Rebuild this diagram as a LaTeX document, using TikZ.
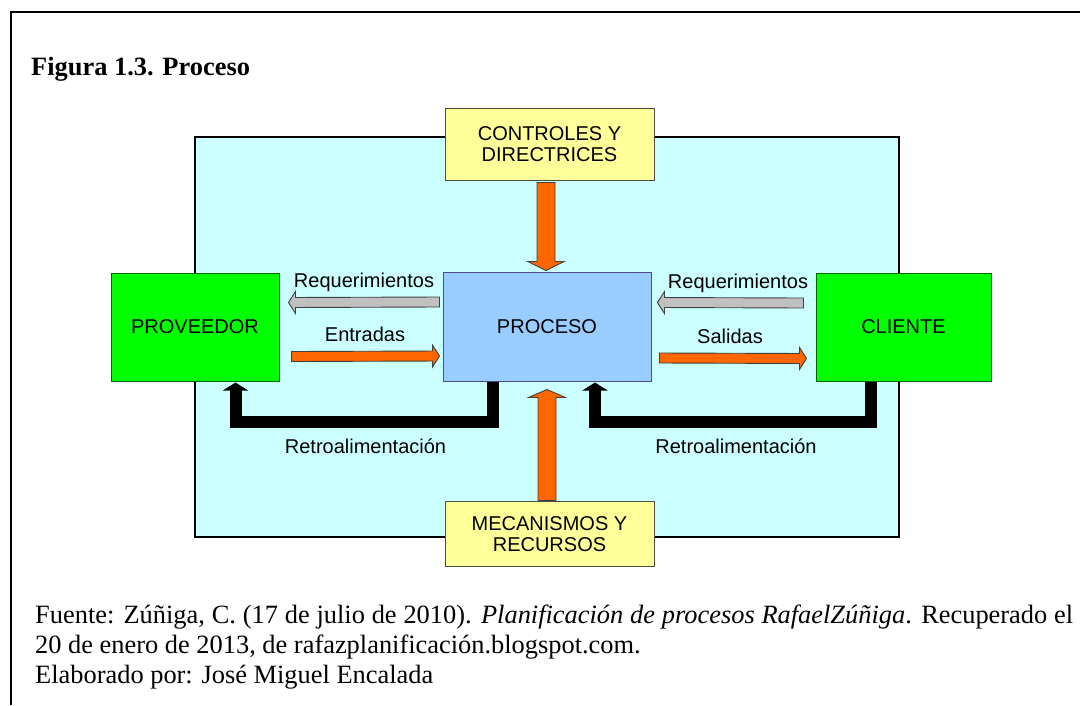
\documentclass[tikz,border=0pt]{standalone}
\usepackage{fontspec}
\setmainfont{Liberation Serif}
\newfontfamily\arialfont{Liberation Sans}
\usetikzlibrary{calc,arrows.meta}

\definecolor{panelcyan}{HTML}{CCFFFF}
\definecolor{boxyellow}{HTML}{FFFF99}
\definecolor{boxgreen}{HTML}{00FF00}
\definecolor{boxblue}{HTML}{99CCFF}
\definecolor{arroworange}{HTML}{FF6600}
\definecolor{arrowgray}{HTML}{C0C0C0}

\tikzset{
  box/.style={rectangle, draw=#1, line width=1pt, inner sep=0pt, align=center,
    font=\arialfont\fontsize{20}{21.5}\selectfont},
  label/.style={inner sep=0pt, anchor=base, font=\arialfont\fontsize{20}{22}\selectfont},
  blockline/.style={draw=black!75, line width=0.9pt, line join=miter},
  feedback/.style={line width=12pt, line join=miter, -{Triangle[length=8pt,width=25pt]}},
  footer/.style={inner sep=0pt, anchor=base west, font=\fontsize{26.4}{30}\selectfont},
}

% block arrow: fill, start, tip, half body width, half head width, head length
\newcommand{\blockarr}[6]{%
  \path ($(#3)!#6!(#2)$) coordinate (babase);
  \draw[blockline, fill=#1]
    ($(#2)!#4!90:(#3)$) -- ($(babase)!#4!90:(#3)$) -- ($(babase)!#5!90:(#3)$)
    -- (#3) -- ($(babase)!#5!-90:(#3)$) -- ($(babase)!#4!-90:(#3)$)
    -- ($(#2)!#4!-90:(#3)$) -- cycle;
}

\begin{document}
\begin{tikzpicture}[x=1pt,y=-1pt]
\useasboundingbox (0,0) rectangle (1080,705);

% page frame
\draw[line width=2.2pt] (1080,12) -- (11,12) -- (11,705);

\node[inner sep=0pt, anchor=base west, font=\bfseries\fontsize{26.4}{30}\selectfont]
  (title) at (31,75) {Figura 1.3. Proceso};

% process area
\draw[line width=2.5pt, fill=panelcyan] (195,137) rectangle (899,537);

% blocks
\node[box=black!70, fill=boxyellow, minimum width=209pt, minimum height=72pt]
  (ctrl) at (549.5,144) {CONTROLES Y\\DIRECTRICES};
\node[box=black!70, fill=boxyellow, minimum width=209pt, minimum height=65pt]
  (mech) at (549.5,534) {MECANISMOS Y\\RECURSOS};
\node[box=green!40!black, fill=boxgreen, minimum width=168pt, minimum height=108pt]
  (prov) at (195,327) {PROVEEDOR};
\node[box=blue!30!black!70, fill=boxblue, minimum width=208pt, minimum height=109pt]
  (proc) at (547,326.5) {PROCESO};
\node[box=green!40!black, fill=boxgreen, minimum width=175pt, minimum height=108pt]
  (cli) at (903.5,327) {CLIENTE};

% arrow end points
\coordinate (reqLs) at ($(proc.west)+(-3,-24.5)$);
\coordinate (reqLt) at ($(prov.east)+(9,-24.5)$);
\coordinate (entS) at ($(prov.east)+(12,29.5)$);
\coordinate (entT) at ($(proc.west)+(-3,29.5)$);
\coordinate (reqRs) at ($(cli.west)+(-12,-24)$);
\coordinate (reqRt) at ($(proc.east)+(6,-24)$);
\coordinate (salS) at ($(proc.east)+(8,31.5)$);
\coordinate (salT) at ($(cli.west)+(-9,31.5)$);
\coordinate (ctlS) at ($(ctrl.south)+(-3.5,2)$);
\coordinate (ctlT) at ($(proc.north)+(-1,-1)$);
\coordinate (mecS) at ($(mech.north)+(-2.5,-0.5)$);
\coordinate (mecT) at ($(proc.south)+(0,8)$);

\blockarr{arrowgray}{reqLs}{reqLt}{5pt}{11pt}{7pt}
\blockarr{arroworange}{entS}{entT}{5pt}{11pt}{7pt}
\blockarr{arrowgray}{reqRs}{reqRt}{5pt}{11pt}{7pt}
\blockarr{arroworange}{salS}{salT}{5pt}{11pt}{7pt}
\blockarr{arroworange}{ctlS}{ctlT}{9pt}{18pt}{9pt}
\blockarr{arroworange}{mecS}{mecT}{9pt}{18.5pt}{8pt}

% feedback loops
\draw[feedback] ($(proc.south west)+(50.5,0)$) -- ++(0,40) -| ($(prov.south west)+(125,1)$);
\draw[feedback] ($(cli.south west)+(55,0)$) -- ++(0,40) -| ($(proc.south west)+(152.5,1)$);

% labels
\node[label] (lreqL) at (364,287) {Requerimientos};
\node[label] (lent) at (365,341) {Entradas};
\node[label] (lreqR) at (738,288) {Requerimientos};
\node[label] (lsal) at (730,343) {Salidas};
\node[label] (lretL) at (365.5,453) {Retroalimentación};
\node[label] (lretR) at (736,453) {Retroalimentación};

% source notes
\node[footer] (f1) at (35,623) {\makebox[1038pt][s]{Fuente: Zúñiga, C. (17 de julio de 2010). \textit{Planificación de procesos RafaelZúñiga}. Recuperado el}};
\node[footer] (f2) at (35,653) {20 de enero de 2013, de rafazplanificación.blogspot.com.};
\node[footer] (f3) at (35,683) {Elaborado por: José Miguel Encalada};
\end{tikzpicture}
\end{document}
